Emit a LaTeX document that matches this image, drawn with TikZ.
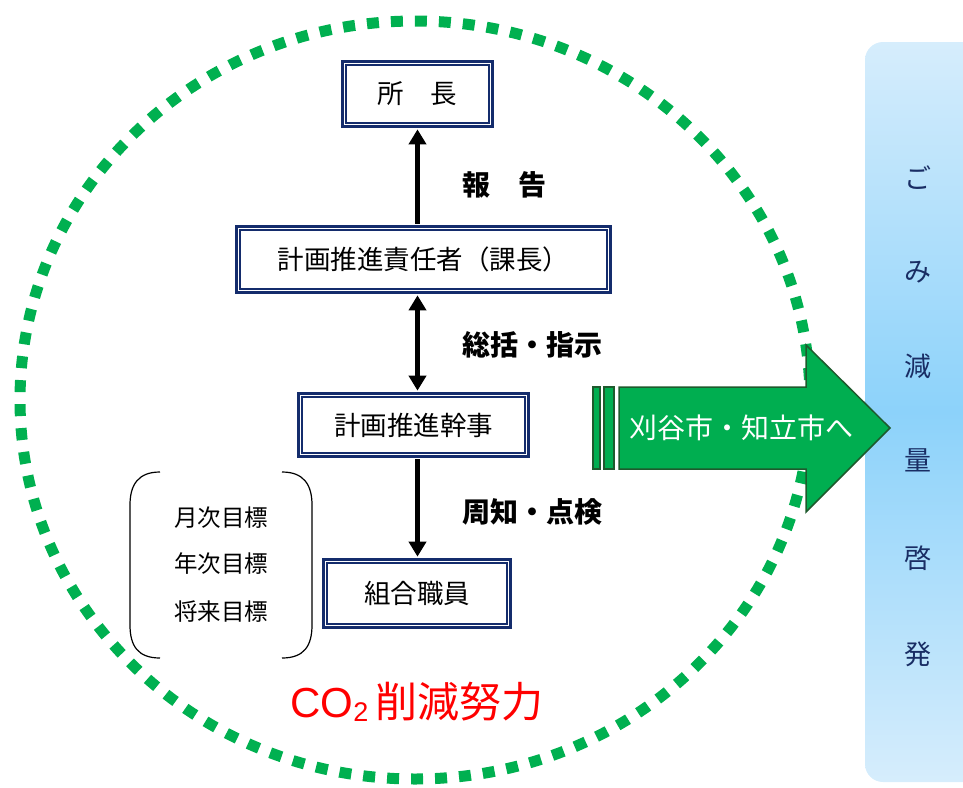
\documentclass[tikz,border=0pt]{standalone}
\usepackage{fontspec}
\setmainfont{Noto Sans CJK JP}
\newfontfamily\latinsans{Liberation Sans}
\usetikzlibrary{arrows.meta}
\definecolor{navy}{RGB}{20,44,108}
\definecolor{dotgreen}{RGB}{0,176,80}
\definecolor{arrowgreen}{RGB}{0,174,80}
\definecolor{darkgreen}{RGB}{30,90,45}
\definecolor{paneltop}{RGB}{214,237,252}
\definecolor{panelmid}{RGB}{140,210,250}
\definecolor{paneltext}{RGB}{25,45,100}
\begin{document}
\begin{tikzpicture}[x=1pt,y=-1pt,
  frame/.style={draw=navy, line width=2.6pt, fill=white, inner sep=0pt,
    font=\fontsize{26.5}{30}\selectfont},
  innerframe/.style={draw=navy, line width=1.2pt},
  flow/.style={line width=4.5pt, -{Triangle[width=17pt,length=15pt]}},
  flowboth/.style={line width=4.5pt, {Triangle[width=17pt,length=15pt]}-{Triangle[width=17pt,length=15pt]}},
  lbl/.style={font=\fontsize{28}{32}\selectfont\bfseries, anchor=west, inner sep=0pt},
  goal/.style={font=\fontsize{23.5}{28}\selectfont, inner sep=0pt},
  vert/.style={font=\fontsize{27}{30}\selectfont, text=paneltext, inner sep=0pt},
  garrow/.style={fill=arrowgreen, draw=darkgreen, line width=1.5pt, line join=miter}
]
\useasboundingbox (0,0) rectangle (963,787);

% side panel
\shade[top color=paneltop, bottom color=paneltop, middle color=panelmid, rounded corners=18pt]
  (865,42) rectangle (990,782);
\node[vert] (v1) at (918,178) {ご};
\node[vert] (v2) at (918,272) {み};
\node[vert] (v3) at (918,366) {減};
\node[vert] (v4) at (918,460) {量};
\node[vert] (v5) at (918,558) {啓};
\node[vert] (v6) at (918,654) {発};

% dotted circle
\draw[dotgreen, line width=11pt, dash pattern=on 12pt off 12pt] (415,400) ellipse [x radius=395, y radius=379];

% boxes
\node[frame, minimum width=150.5, minimum height=65.5] (b1) at (417.5,94) {所\hspace{1em}長};
\node[frame, minimum width=374.5, minimum height=66.5] (b2) at (423.5,259.5) {計画推進責任者（課長）};
\node[frame, minimum width=230.5, minimum height=63.5] (b3) at (413.5,425) {計画推進幹事};
\node[frame, minimum width=187.5, minimum height=68.5] (b4) at (417,593.5) {組合職員};
\foreach \n in {b1,b2,b3,b4}
  \draw[innerframe] ([xshift=5pt,yshift=-5pt]\n.north west) rectangle ([xshift=-5pt,yshift=5pt]\n.south east);

% arrows
\draw[flow] ([yshift=1.3pt]b2.north -| b1.south) -- ([yshift=-1.3pt]b1.south);
\draw[flowboth] ([yshift=-1.3pt]b2.south -| b1.south) -- ([yshift=1.3pt]b3.north -| b1.south);
\draw[flow] ([yshift=-1.3pt]b3.south -| b1.south) -- ([yshift=1.3pt]b4.north -| b1.south);

\node[lbl] (l1) at (462,185) {報\hspace{1em}告};
\node[lbl] (l2) at (462,345) {総括・指示};
\node[lbl] (l3) at (462,512) {周知・点検};

% goals bracket
\draw[line width=1.2pt] (160,472) .. controls (138,472) and (130,485) .. (130,505) -- (130,625)
  .. controls (130,646) and (138,658) .. (160,658);
\draw[line width=1.2pt] (282,472) .. controls (304,472) and (312,485) .. (312,505) -- (312,625)
  .. controls (312,646) and (304,658) .. (282,658);
\node[goal] (g1) at (221,518) {月次目標};
\node[goal] (g2) at (221,564) {年次目標};
\node[goal] (g3) at (221,612) {将来目標};

% green arrow
\draw[garrow] (593,387) rectangle (600,469);
\draw[garrow] (604,387) rectangle (614,469);
\draw[garrow] (619,387) -- (806,387) -- (806,345) -- (890,428) -- (806,512) -- (806,469) -- (619,469) -- cycle;
\node[font=\fontsize{28}{32}\selectfont, text=white, inner sep=0pt] (at) at (741,428) {刈谷市・知立市へ};

% CO2
\node[font=\fontsize{42}{48}\selectfont, text=red, inner sep=0pt] (co) at (417,702)
  {{\latinsans CO\raisebox{-0.2ex}{\fontsize{27}{30}\selectfont 2}}\,削減努力};
\end{tikzpicture}
\end{document}
